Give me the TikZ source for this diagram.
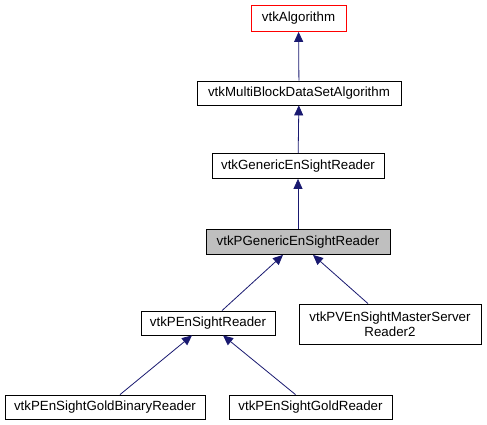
\documentclass[tikz,border=0pt]{standalone}
\usepackage{fontspec}
\setmainfont{Liberation Sans}
\usetikzlibrary{arrows.meta}
\definecolor{inhblue}{HTML}{191970}
\definecolor{curgray}{HTML}{BFBFBF}
\tikzset{
  cls/.style={draw=black,fill=white,line width=0.8pt,inner sep=0pt,
    minimum height=24pt,align=center,font=\fontsize{13.3}{15.5}\selectfont},
  inh/.style={inhblue,line width=0.8pt,-{Triangle[length=10pt,width=9pt]}}
}
\begin{document}
\begin{tikzpicture}[x=1pt,y=-1pt]
		\useasboundingbox (0,0) rectangle (487,425);
		\node[cls,draw=red,minimum width=95pt,minimum height=26pt] (alg) at (298.5,18.5) {vtkAlgorithm};
		\node[cls,minimum width=204pt] (mbds) at (299,93) {vtkMultiBlockDataSetAlgorithm};
		\node[cls,minimum width=172pt,minimum height=25pt] (gen) at (298,166) {vtkGenericEnSightReader};
		\node[cls,fill=curgray,minimum width=184pt,minimum height=25pt] (pgen) at (298,242) {vtkPGenericEnSightReader};
		\node[cls,minimum width=134pt] (pen) at (208,323) {vtkPEnSightReader};
		\node[cls,minimum width=182pt,minimum height=40pt] (pvms) at (390,324) {vtkPVEnSightMasterServer\\Reader2};
		\node[cls,minimum width=200pt] (gbin) at (105,407) {vtkPEnSightGoldBinaryReader};
		\node[cls,minimum width=163pt] (gold) at (310.5,407) {vtkPEnSightGoldReader};
		\draw[inh] (mbds) -- (alg);
		\draw[inh] (gen) -- (mbds);
		\draw[inh] (pgen) -- (gen);
		\draw[inh] ([xshift=14pt]pen.north) -- ([xshift=-15pt]pgen.south);
		\draw[inh] ([xshift=-22pt]pvms.north) -- ([xshift=15pt]pgen.south);
		\draw[inh] ([xshift=15pt]gbin.north) -- ([xshift=-16pt]pen.south);
		\draw[inh] ([xshift=-15pt]gold.north) -- ([xshift=15pt]pen.south);
\end{tikzpicture}
\end{document}
